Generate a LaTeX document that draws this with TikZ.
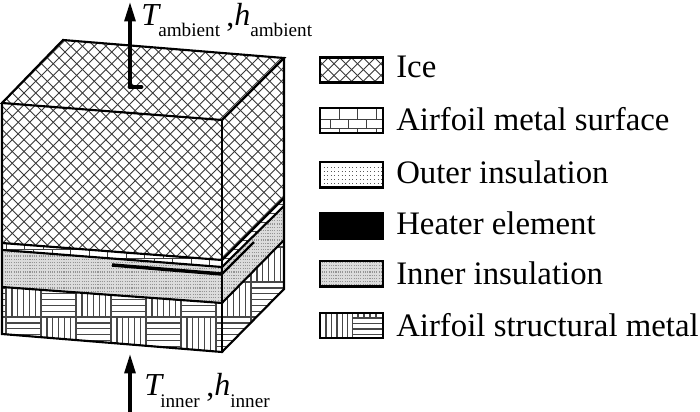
\documentclass[tikz,border=0pt]{standalone}
\usepackage{fontspec}
\setmainfont{Liberation Serif}
\usetikzlibrary{arrows.meta}
\tikzset{
  x=0.75pt,y=-0.75pt,
  hatchline/.style={draw=black!78,line width=0.68pt},
  tileline/.style={draw=black!72,line width=0.9pt},
  brickline/.style={draw=black!75,line width=0.6pt},
  edgeline/.style={draw=black,line width=1.6pt,line join=miter},
  legendbox/.style={draw=black,line width=2pt},
  legendtext/.style={anchor=base west,inner sep=0pt,font=\fontsize{24.6}{24.6}\selectfont},
  mainsym/.style={anchor=base west,inner sep=0pt,font=\fontsize{24}{24}\selectfont\itshape},
  subsym/.style={anchor=base west,inner sep=0pt,font=\fontsize{14.4}{14.4}\selectfont},
  flowarrow/.style={draw=black,line width=3.7pt,-{Triangle[length=16pt,width=7.5pt]}},
}
\newcommand{\icehatch}{%
  \foreach \hc in {0,11.7,...,1100}{
    \path[hatchline] (\hc,0) -- (\hc-420,420);
    \path[hatchline] (\hc-420,0) -- (\hc,420);
  }}
\newcommand{\brickfill}{%
  \foreach \br in {0,1,...,40}{
    \pgfmathsetmacro{\ry}{6.5+9*\br}
    \path[brickline] (0,\ry) -- (400,\ry);
    \pgfmathsetmacro{\boff}{mod(\br,2)==0?9.25:0}
    \foreach \bk in {0,1,...,22}{
      \pgfmathsetmacro{\bx}{6+\boff+18.5*\bk}
      \path[brickline] (\bx,\ry-9) -- (\bx,\ry);
    }
  }}
\newcommand{\dotsfill}{%
  \foreach \dr in {0,3.2,...,420}{
    \path[draw=black!42,line width=0.8pt,dash pattern=on 0.8pt off 0.9pt] (0,\dr) -- (400,\dr);
  }}
\newcommand{\tilefill}{%
  \foreach \ti in {-1,0,...,7}{
    \foreach \tj in {0,1,2}{
      \pgfmathsetmacro{\tx}{6+35*\ti}
      \pgfmathsetmacro{\ty}{247+35*\tj}
      \pgfmathtruncatemacro{\tpar}{mod(\ti+\tj+10,2)}
      \path[tileline] (\tx,\ty) rectangle ++(35,35);
      \foreach \tk in {1,...,5}{
        \ifnum\tpar=1
          \path[tileline] (\tx+5.9*\tk,\ty) -- (\tx+5.9*\tk,\ty+35);
        \else
          \path[tileline] (\tx,\ty+5.9*\tk) -- (\tx+35,\ty+5.9*\tk);
        \fi
      }
    }
  }}
\begin{document}
\begin{tikzpicture}
\useasboundingbox (0,0) rectangle (700,411);
% faces of the block
\coordinate (A) at (2,103);
\coordinate (B) at (63,40);
\coordinate (C) at (284,58);
\coordinate (D) at (222,120);
\coordinate (iL) at (2,243);   \coordinate (iF) at (222,260); \coordinate (iR) at (284,198);
\coordinate (mL) at (2,250);   \coordinate (mF) at (222,267); \coordinate (mR) at (284,206);
\coordinate (nL) at (2,287);   \coordinate (nF) at (222,303); \coordinate (nR) at (284,240);
\coordinate (sL) at (2,334);   \coordinate (sF) at (222,352); \coordinate (sR) at (284,289);
\begin{scope}
  \clip (A) -- (B) -- (C) -- (iR) -- (iF) -- (iL) -- cycle;
  \icehatch
\end{scope}
\begin{scope}
  \clip (iL) -- (iF) -- (iR) -- (mR) -- (mF) -- (mL) -- cycle;
  \brickfill
\end{scope}
\fill[black!14] (mL) -- (mF) -- (mR) -- (nR) -- (nF) -- (nL) -- cycle;
\begin{scope}
  \clip (mL) -- (mF) -- (mR) -- (nR) -- (nF) -- (nL) -- cycle;
  \dotsfill
\end{scope}
\begin{scope}
  \clip (nL) -- (nF) -- (nR) -- (sR) -- (sF) -- (sL) -- cycle;
  \tilefill
\end{scope}
% edges
\draw[edgeline] (A) -- (B) -- (C) -- (D) -- cycle;
\draw[edgeline] (A) -- (sL) -- (sF) -- (sR) -- (C);
\draw[edgeline] (D) -- (sF);
\draw[edgeline] (iL) -- (iF) -- (iR);
\draw[edgeline] (mL) -- (mF) -- (mR);
\draw[edgeline] (nL) -- (nF) -- (nR);
% heater
\coordinate (hL) at (112,265);
\coordinate (hF) at (222,274);
\coordinate (hR) at (254,242);
\draw[draw=black,line width=2.6pt] (hL) -- (hF);
\draw[draw=black,line width=1.8pt] (hF) -- (hR);
% heat flow arrows
\coordinate (topfoot) at (141,87);
\coordinate (topbase) at (130,87);
\coordinate (toptip) at (130,0);
\coordinate (botbase) at (130,413);
\coordinate (bottip) at (130,352);
\draw[draw=black,line width=3.7pt,line cap=round] (topfoot) -- (topbase);
\draw[flowarrow] (topbase) -- (toptip);
\draw[flowarrow] (botbase) -- (bottip);
% flow labels
\node[mainsym] (Ta) at (141,25) {T};
\node[subsym] (Tas) at (158,36) {ambient};
\node[mainsym,font=\fontsize{24}{24}\selectfont] (ca) at (226,26) {,};
\node[mainsym] (ha) at (234,25) {h};
\node[subsym] (has) at (250,36) {ambient};
\node[mainsym] (Ti) at (144,395) {T};
\node[subsym] (Tis) at (160,407) {inner};
\node[mainsym,font=\fontsize{24}{24}\selectfont] (ci) at (206,396) {,};
\node[mainsym] (hi) at (214,395) {h};
\node[subsym] (his) at (230,407) {inner};
% legend
\begin{scope}
  \clip (320,57.5) rectangle (383,82.5);
  \icehatch
\end{scope}
\draw[legendbox] (320,57.5) rectangle (383,82.5);
\begin{scope}
  \clip (320,108) rectangle (383,133);
  \foreach \yy in {119,128}{\path[brickline] (320,\yy) -- (383,\yy);}
  \foreach \xx in {339,357.5,376}{
    \path[brickline] (\xx,108) -- (\xx,119);
    \path[brickline] (\xx,128) -- (\xx,133);
  }
  \foreach \xx in {330,348,366}{\path[brickline] (\xx,119) -- (\xx,128);}
\end{scope}
\draw[legendbox] (320,108) rectangle (383,133);
\begin{scope}
  \clip (320,162) rectangle (383,187.5);
  \foreach \yy in {167,171,...,187}{
    \path[draw=black!65,line width=0.7pt,dash pattern=on 0.7pt off 2pt] (320,\yy) -- (383,\yy);
  }
\end{scope}
\draw[legendbox] (320,162) rectangle (383,187.5);
\fill[black,draw=black,line width=2pt] (320,213) rectangle (383,239);
\fill[black!14] (320,261) rectangle (383,286.5);
\begin{scope}
  \clip (320,261) rectangle (383,286.5);
  \dotsfill
\end{scope}
\draw[legendbox] (320,261) rectangle (383,286.5);
\begin{scope}
  \clip (320,313) rectangle (383,338);
  \foreach \xx in {326,331.5,337,342.5,347.5}{\path[tileline] (\xx,313) -- (\xx,338);}
  \path[tileline] (352.7,313) -- (352.7,338);
  \path[tileline] (352.7,318) -- (383,318);
  \foreach \yy in {323.5,329,334.5}{\path[tileline] (352.7,\yy) -- (383,\yy);}
  \foreach \xx in {358,364,370,376}{\path[tileline] (\xx,313) -- (\xx,318);}
\end{scope}
\draw[legendbox] (320,313) rectangle (383,338);
\node[legendtext] (l1) at (396,77) {Ice};
\node[legendtext] (l2) at (396,130) {Airfoil metal surface};
\node[legendtext] (l3) at (396,183) {Outer insulation};
\node[legendtext] (l4) at (396,234) {Heater element};
\node[legendtext] (l5) at (396,284) {Inner insulation};
\node[legendtext] (l6) at (396,336) {Airfoil structural metal};
\end{tikzpicture}
\end{document}
